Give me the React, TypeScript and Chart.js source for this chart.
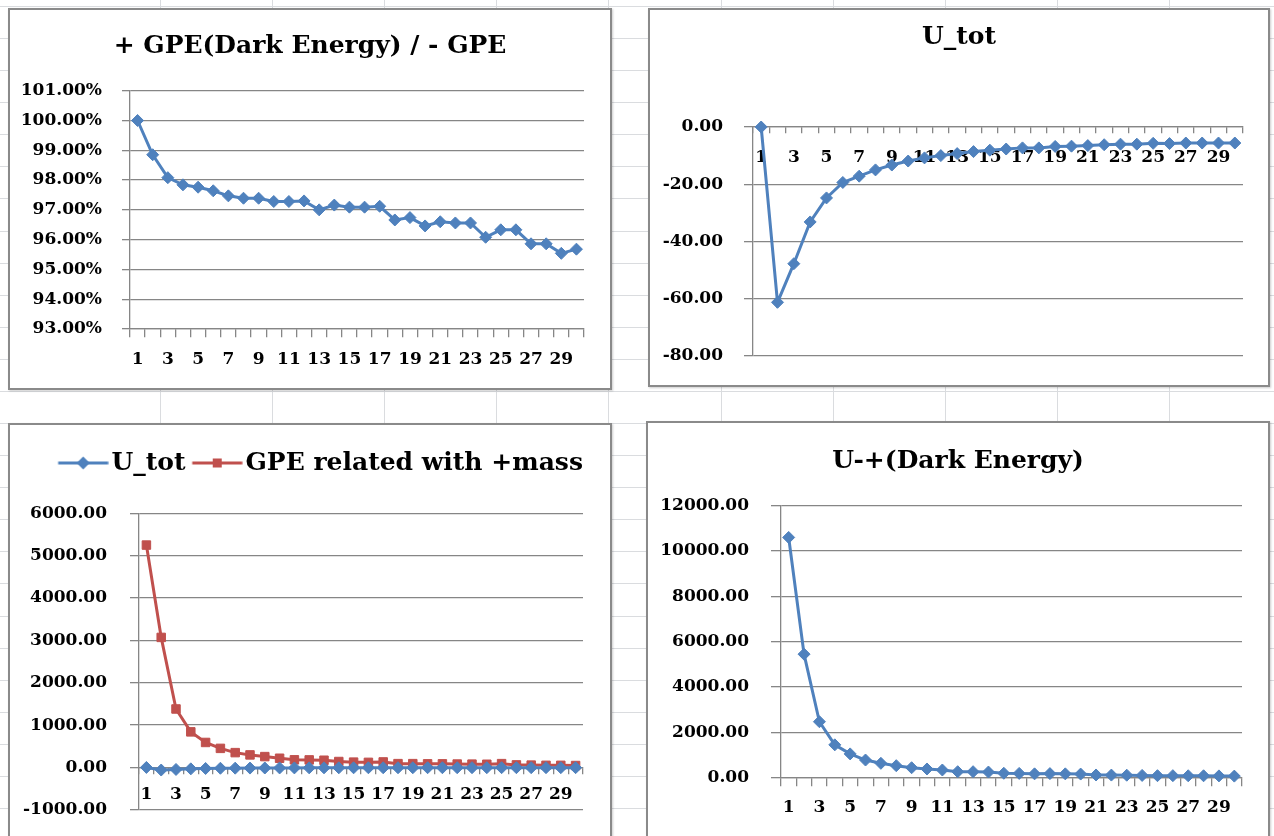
import React, { useEffect, useRef } from "react";
import { Chart, registerables } from "chart.js";

Chart.register(...registerables);

// ---------- data ----------
const categories = [
  "1", "2", "3", "4", "5", "6", "7", "8", "9", "10",
  "11", "12", "13", "14", "15", "16", "17", "18", "19", "20",
  "21", "22", "23", "24", "25", "26", "27", "28", "29", "30",
];

// + GPE(Dark Energy) / - GPE  (percent)
const ratioPercent = [
  100.0, 98.85, 98.08, 97.84, 97.76, 97.64, 97.47, 97.39, 97.39, 97.28,
  97.28, 97.3, 97.0, 97.16, 97.09, 97.09, 97.12, 96.66, 96.74, 96.46,
  96.6, 96.56, 96.56, 96.08, 96.33, 96.33, 95.86, 95.86, 95.54, 95.68,
];

// U_tot
const uTot = [
  0, -61.3, -47.8, -33.2, -24.8, -19.4, -17.2, -15.0, -13.3, -11.9,
  -10.8, -10.0, -9.3, -8.6, -8.1, -7.7, -7.3, -7.3, -6.8, -6.7,
  -6.5, -6.2, -6.0, -6.0, -5.7, -5.8, -5.6, -5.6, -5.6, -5.6,
];

// GPE related with +mass
const gpePlusMass = [
  5250, 3070, 1380, 840, 590, 450, 350, 296, 256, 217,
  180, 178, 170, 140, 125, 120, 130, 90, 90, 85,
  85, 80, 78, 75, 90, 60, 55, 50, 50, 45,
];

// U-+(Dark Energy)
const uDarkEnergy = [
  10600, 5450, 2470, 1450, 1050, 780, 635, 530, 440, 385,
  340, 265, 265, 250, 195, 190, 170, 180, 170, 160,
  120, 115, 110, 100, 90, 90, 85, 85, 80, 70,
];

// y axis ranges: [min, max, step]
const ratioAxis = [93, 101, 1];
const uTotAxis = [-80, 0, 20];
const compareAxis = [-1000, 6000, 1000];
const darkAxis = [0, 12000, 2000];

const titles = ["+ GPE(Dark Energy) / - GPE", "U_tot", "U-+(Dark Energy)"];
const seriesNames = ["U_tot", "GPE related with +mass"];

// ---------- styles ----------
const FONT = "'DejaVu Serif', 'Liberation Serif', serif";
const BLUE = "#4F81BD";
const RED = "#C0504D";
const GRID = "#868686";
const TEXT = "#000000";
const tickFont = { family: FONT, size: 17, weight: "bold" as const };
const TITLE_SIZE = 25;

function yAxis(range: number[], width: number, tickLen: number, pad: number, fmt: (v: number) => string) {
  return {
    type: "linear" as const,
    position: "left" as const,
    min: range[0],
    max: range[1],
    ticks: {
      stepSize: range[2],
      autoSkip: false,
      color: TEXT,
      font: tickFont,
      padding: pad,
      callback: (v: any) => fmt(Number(v)),
    },
    grid: { color: GRID, lineWidth: 1.3, tickLength: tickLen, drawTicks: true },
    border: { display: true, color: GRID, width: 1.3 },
    afterFit: (s: any) => {
      s.width = width;
    },
  };
}

// empty right-hand spacer axis so the title stays centred on the whole box
function spacerAxis(width: number) {
  return {
    type: "linear" as const,
    position: "right" as const,
    display: true,
    ticks: { display: false },
    grid: { display: false, drawTicks: false },
    border: { display: false },
    afterFit: (s: any) => {
      s.width = width;
    },
  };
}

function xAxis(at: number, tickLen: number, pad: number) {
  return {
    type: "category" as const,
    position: { y: at },
    offset: true,
    ticks: {
      autoSkip: false,
      maxRotation: 0,
      minRotation: 0,
      padding: pad,
      color: TEXT,
      font: tickFont,
      callback: (_v: any, i: number) => (i % 2 === 0 ? categories[i] : ""),
    },
    grid: { offset: true, drawOnChartArea: false, drawTicks: true, tickLength: tickLen, color: GRID, lineWidth: 1.3 },
    border: { display: true, color: GRID, width: 1.3 },
  };
}

function series(label: string, data: number[], color: string, shape: string, radius: number) {
  return {
    label,
    data,
    yAxisID: "y",
    xAxisID: "x",
    borderColor: color,
    backgroundColor: color,
    borderWidth: 3,
    pointStyle: shape,
    pointRadius: radius,
    pointBorderWidth: 1,
    pointBackgroundColor: color,
    pointBorderColor: color,
    tension: 0,
    clip: false as const,
  };
}

function titleOpt(text: string, top: number, bottom: number) {
  return {
    display: true,
    text,
    color: TEXT,
    font: { family: FONT, size: TITLE_SIZE, weight: "bold" as const },
    padding: { top, bottom },
  };
}

// legend symbol: line with marker, offset inside the image so the
// line sits between the previous label and its own label
function legendImage(color: string, shape: "diamond" | "square") {
  const c = document.createElement("canvas");
  c.width = 67;
  c.height = 16;
  const ctx = c.getContext("2d")!;
  ctx.strokeStyle = color;
  ctx.lineWidth = 3;
  ctx.beginPath();
  ctx.moveTo(16.5, 8);
  ctx.lineTo(66.5, 8);
  ctx.stroke();
  const cx = 41.5;
  ctx.fillStyle = color;
  if (shape === "diamond") {
    ctx.beginPath();
    ctx.moveTo(cx, 1.5);
    ctx.lineTo(cx + 6.5, 8);
    ctx.lineTo(cx, 14.5);
    ctx.lineTo(cx - 6.5, 8);
    ctx.closePath();
    ctx.fill();
  } else {
    ctx.fillRect(cx - 4.5, 3.5, 9, 9);
  }
  return c;
}

const common = {
  responsive: false,
  animation: false as const,
  events: [] as any[],
};

function buildRatio(): any {
  return {
    type: "line",
    data: { labels: categories, datasets: [series("ratio", ratioPercent, BLUE, "rectRot", 6)] },
    options: {
      ...common,
      layout: { padding: { left: 0, right: 0, top: 0, bottom: 61 } },
      plugins: {
        legend: { display: false },
        tooltip: { enabled: false },
        title: titleOpt(titles[0], 23, 29.7),
      },
      scales: {
        x: xAxis(ratioAxis[0], 8, 12),
        y: yAxis(ratioAxis, 122, 8, 20, (v) => v.toFixed(2) + "%"),
        yRight: spacerAxis(28),
      },
    },
  };
}

function buildUTot(): any {
  return {
    type: "line",
    data: { labels: categories, datasets: [series(seriesNames[0], uTot, BLUE, "rectRot", 6)] },
    options: {
      ...common,
      layout: { padding: { left: 0, right: 0, top: 0, bottom: 26.3 } },
      plugins: {
        legend: { display: false },
        tooltip: { enabled: false },
        title: titleOpt(titles[1], 14, 75),
      },
      scales: {
        x: xAxis(0, 6, 14),
        y: yAxis(uTotAxis, 105, 9, 21, (v) => v.toFixed(2)),
        yRight: spacerAxis(27),
      },
    },
  };
}

function buildCompare(): any {
  const images = [legendImage(BLUE, "diamond"), legendImage(RED, "square")];
  return {
    type: "line",
    data: {
      labels: categories,
      datasets: [
        series(seriesNames[0], uTot, BLUE, "rectRot", 6),
        series(seriesNames[1], gpePlusMass, RED, "rect", 6),
      ],
    },
    options: {
      ...common,
      layout: { padding: { left: 0, right: 29, top: 27.5, bottom: 29.7 } },
      plugins: {
        tooltip: { enabled: false },
        legend: {
          display: true,
          position: "top",
          align: "end",
          weight: 1000,
          labels: {
            usePointStyle: true,
            pointStyleWidth: 47.5,
            padding: 0,
            color: TEXT,
            font: { family: FONT, size: TITLE_SIZE, weight: "bold" },
            generateLabels: (chart: any) => {
              const items = (Chart.defaults as any).plugins.legend.labels.generateLabels(chart);
              return items.map((it: any, i: number) => ({ ...it, pointStyle: images[i], fontColor: TEXT }));
            },
          },
        },
        title: {
          display: true,
          text: "",
          weight: 500,
          font: { size: 1 },
          padding: { top: 0, bottom: 26.6 },
        },
      },
      scales: {
        x: xAxis(0, 6, 11),
        y: yAxis(compareAxis, 131, 9, 23, (v) => v.toFixed(2)),
      },
    },
  };
}

function buildDark(): any {
  return {
    type: "line",
    data: { labels: categories, datasets: [series("U-+", uDarkEnergy, BLUE, "rectRot", 6)] },
    options: {
      ...common,
      layout: { padding: { left: 0, right: 0, top: 0, bottom: 63.3 } },
      plugins: {
        legend: { display: false },
        tooltip: { enabled: false },
        title: titleOpt(titles[2], 25, 29.7),
      },
      scales: {
        x: xAxis(0, 8, 12),
        y: yAxis(darkAxis, 135, 10, 22, (v) => v.toFixed(2)),
        yRight: spacerAxis(28),
      },
    },
  };
}

function ChartBox(props: { x: number; y: number; w: number; h: number; build: () => any }) {
  const { x, y, w, h, build } = props;
  const ref = useRef<HTMLCanvasElement>(null);
  useEffect(() => {
    const chart = new Chart(ref.current as HTMLCanvasElement, build());
    return () => chart.destroy();
  }, []);
  return (
    <div
      style={{
        position: "absolute",
        left: x,
        top: y,
        width: w,
        height: h,
        background: "#fff",
        boxShadow: "1px 1px 2px rgba(0,0,0,0.2)",
      }}
    >
      <canvas ref={ref} width={w} height={h} style={{ position: "absolute", left: 0, top: 0, width: w, height: h }} />
      <div
        style={{
          position: "absolute",
          left: 0,
          top: 0,
          right: 0,
          bottom: 0,
          border: "2px solid #8a8a8a",
          pointerEvents: "none",
        }}
      />
    </div>
  );
}

export default function App() {
  const vLines: number[] = [];
  for (let k = 0; k < 10; k++) vLines.push(160 + 112.1 * k);
  const hLines: number[] = [];
  for (let k = 0; k < 27; k++) hLines.push(6 + 32.08 * k);
  return (
    <div
      style={{
        position: "absolute",
        left: 0,
        top: 0,
        width: 1274,
        height: 836,
        overflow: "hidden",
        background: "#fff",
      }}
    >
      {vLines.map((vx, i) => (
        <div key={"v" + i} style={{ position: "absolute", left: Math.round(vx), top: 0, width: 1, height: 836, background: "#dadcdf" }} />
      ))}
      {hLines.map((hy, i) => (
        <div key={"h" + i} style={{ position: "absolute", left: 0, top: Math.round(hy), width: 1274, height: 1, background: "#dadcdf" }} />
      ))}
      <ChartBox x={8} y={8} w={604} h={382} build={buildRatio} />
      <ChartBox x={648} y={8} w={622} h={379} build={buildUTot} />
      <ChartBox x={8} y={423} w={604} h={420} build={buildCompare} />
      <ChartBox x={646} y={421} w={624} h={420} build={buildDark} />
    </div>
  );
}
